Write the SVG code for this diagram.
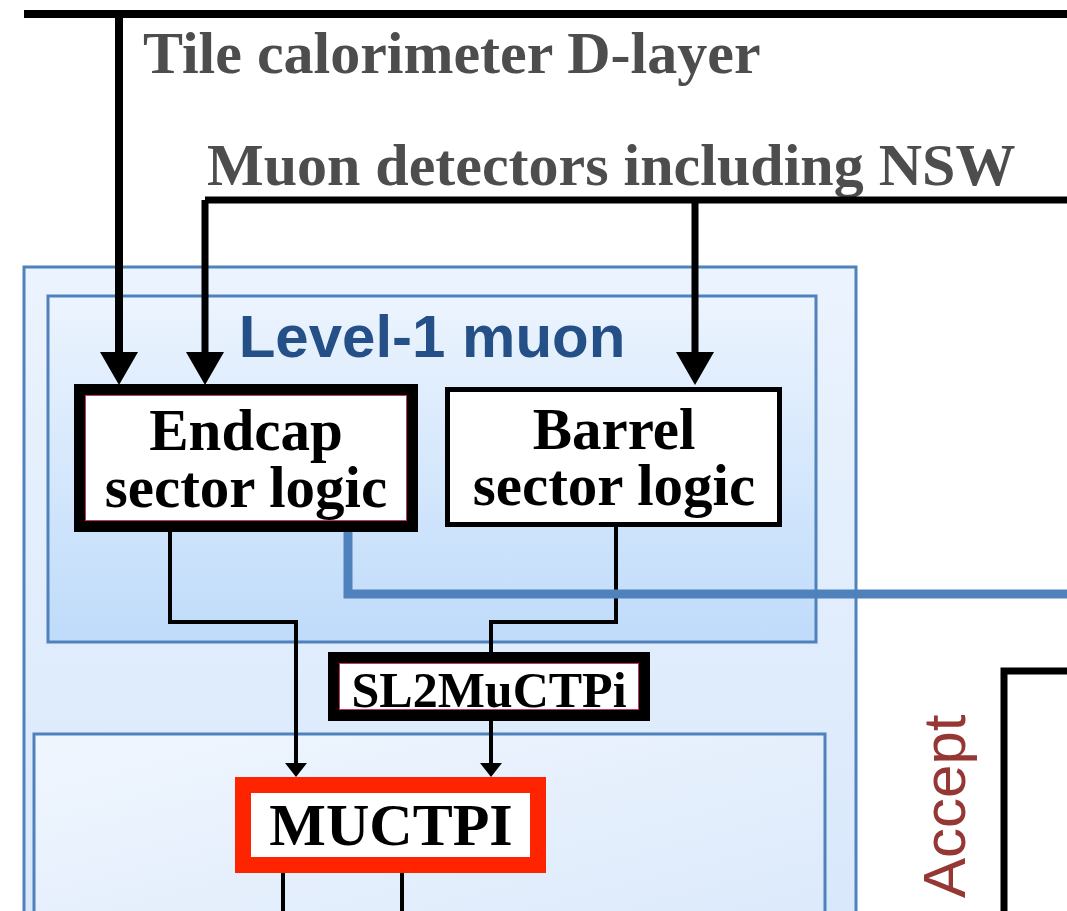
<svg xmlns="http://www.w3.org/2000/svg" width="1067" height="911" viewBox="0 0 1067 911">
<style>
.lbl{font-family:"Liberation Serif","Times New Roman",serif;font-weight:bold;}
.grey{fill:#4d4d4d;font-size:60px;}
.blk{fill:#000;text-anchor:middle;}
.wire{fill:none;stroke:#000;}
.cont{stroke:#4f81bd;stroke-width:3;}
</style>
<defs>
<linearGradient id="gOuter" x1="0" y1="0" x2="0" y2="1">
<stop offset="0" stop-color="#ebf3fe"/><stop offset="1" stop-color="#d8e8fb"/>
</linearGradient>
<linearGradient id="gL1" x1="0" y1="0" x2="0" y2="1">
<stop offset="0" stop-color="#ecf4fe"/><stop offset="1" stop-color="#bfdbfa"/>
</linearGradient>
<linearGradient id="gLow" x1="0" y1="0" x2="1" y2="1">
<stop offset="0" stop-color="#f0f6fe"/><stop offset="1" stop-color="#dbe9fb"/>
</linearGradient>
<marker id="bigArrow" markerUnits="userSpaceOnUse" viewBox="0 0 38 33" markerWidth="38" markerHeight="33" refX="19" refY="0" orient="0">
<path d="M0,0 L38,0 L19,33 Z" fill="#000"/>
</marker>
<marker id="smallArrow" markerUnits="userSpaceOnUse" viewBox="0 0 22 14" markerWidth="22" markerHeight="14" refX="11" refY="0" orient="0">
<path d="M0,0 L22,0 L11,14 Z" fill="#000"/>
</marker>
</defs>

<g id="containers">
<rect id="outer-box" class="cont" x="24" y="267" width="832" height="660" fill="url(#gOuter)"/>
<rect id="level1-muon-box" class="cont" x="48" y="296" width="768" height="346" fill="url(#gL1)"/>
<rect id="central-box" class="cont" x="34" y="734" width="791" height="200" fill="url(#gLow)"/>
<text x="432" y="357" text-anchor="middle" font-family="'Liberation Sans',Arial,sans-serif" font-weight="bold" font-size="60" fill="#245087">Level-1 muon</text>
</g>

<g id="labels">
<text class="lbl grey" x="143" y="73">Tile calorimeter D-layer</text>
<text class="lbl grey" x="207" y="185">Muon detectors including NSW</text>
<text transform="translate(965,898) rotate(-90)" font-family="'Liberation Sans',Arial,sans-serif" font-size="60" fill="#953735">Accept</text>
</g>

<g id="connectors">
<path class="wire" stroke-width="8" d="M24,14 H1067"/>
<path class="wire" stroke-width="8" d="M119,14 V352" marker-end="url(#bigArrow)"/>
<path class="wire" stroke-width="7" d="M205,200 H1067"/>
<path class="wire" stroke-width="7" d="M205,200 V352" marker-end="url(#bigArrow)"/>
<path class="wire" stroke-width="7" d="M695,200 V352" marker-end="url(#bigArrow)"/>
<path class="wire" stroke-width="4" d="M170,532 V622 H296 V763" marker-end="url(#smallArrow)"/>
<path class="wire" stroke-width="4" d="M616,527 V622 H491 V652"/>
<path class="wire" stroke-width="4" d="M491,721 V763" marker-end="url(#smallArrow)"/>
<path class="wire" stroke-width="4" d="M283,873 V911 M402,873 V911"/>
<path fill="none" stroke="#4f81bd" stroke-width="9" d="M348,532 V594 H1067"/>
<path class="wire" stroke-width="7" d="M1004,911 V671 H1067"/>
</g>

<g id="endcap-sector-logic">
<rect x="79.5" y="389.5" width="333" height="137" fill="#fff" stroke="#000" stroke-width="11"/>
<rect x="85.5" y="395.5" width="321" height="125" fill="none" stroke="#c8326e" stroke-width="1"/>
<text class="lbl blk" x="246" y="450" font-size="59">Endcap</text>
<text class="lbl blk" x="246" y="507" font-size="59">sector logic</text>
</g>

<g id="barrel-sector-logic">
<rect x="447.5" y="389.5" width="332" height="135" fill="#fff" stroke="#000" stroke-width="5"/>
<text class="lbl blk" x="614" y="449" font-size="59">Barrel</text>
<text class="lbl blk" x="614" y="505" font-size="59">sector logic</text>
</g>

<g id="sl2muctpi">
<rect x="333.5" y="657.5" width="311" height="58" fill="#fff" stroke="#000" stroke-width="11"/>
<rect x="339.5" y="663.5" width="299" height="46" fill="none" stroke="#c8326e" stroke-width="1"/>
<text class="lbl blk" x="489" y="707" font-size="50">SL2MuCTPi</text>
</g>

<g id="muctpi">
<rect x="243" y="785" width="295" height="80" fill="#fff" stroke="#ff2400" stroke-width="16"/>
<text class="lbl blk" x="391" y="845" font-size="60">MUCTPI</text>
</g>
</svg>
